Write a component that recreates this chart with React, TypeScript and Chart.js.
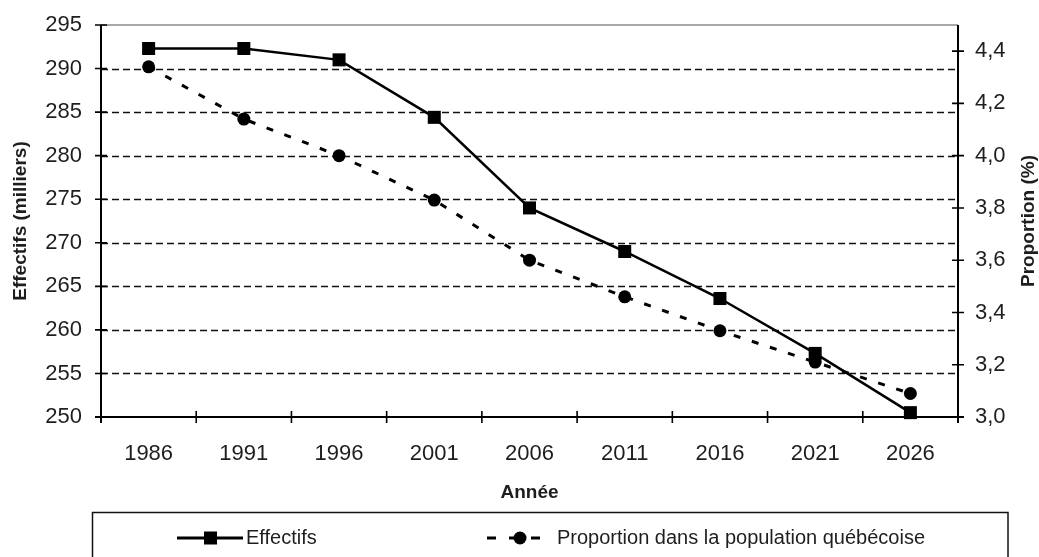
import React, { useEffect, useRef } from "react";
import { Chart, registerables } from "chart.js";

Chart.register(...registerables);

// Population data by census year
const years = ["1986", "1991", "1996", "2001", "2006", "2011", "2016", "2021", "2026"];
const effectifs = [292.3, 292.3, 291.0, 284.4, 274.0, 269.0, 263.6, 257.3, 250.5];
const proportion = [4.34, 4.14, 4.0, 3.83, 3.6, 3.46, 3.33, 3.21, 3.09];

// Axis ranges
const leftAxis = { min: 250, max: 295, step: 5 };
const rightAxis = { min: 3.0, max: 4.5, step: 0.2, lastLabel: 4.4 };

const seriesNames = ["Effectifs", "Proportion dans la population québécoise"];
const axisTitles = { x: "Année", left: "Effectifs (milliers)", right: "Proportion (%)" };

const FONT = "'Liberation Sans', Arial, sans-serif";
const TEXT = "#1e1e1e";

const framePlugin = {
  id: "frame",
  beforeDatasetsDraw(chart: any) {
    const { ctx, chartArea: a, scales } = chart;
    const y = scales.y;
    const y1 = scales.y1;
    const x = scales.x;
    ctx.save();
    // dashed horizontal grid
    ctx.strokeStyle = "#111";
    ctx.lineWidth = 1.6;
    ctx.setLineDash([7, 4]);
    y.ticks.forEach((t: any) => {
      if (t.value <= leftAxis.min || t.value >= leftAxis.max) return;
      const py = Math.round(y.getPixelForValue(t.value)) + 0.5;
      ctx.beginPath();
      ctx.moveTo(a.left, py);
      ctx.lineTo(a.right, py);
      ctx.stroke();
    });
    ctx.setLineDash([]);
    // top border
    ctx.strokeStyle = "#a8a8a8";
    ctx.lineWidth = 2;
    ctx.beginPath();
    ctx.moveTo(a.left, a.top);
    ctx.lineTo(a.right, a.top);
    ctx.stroke();
    // axis lines
    ctx.strokeStyle = "#000";
    ctx.lineWidth = 2;
    ctx.beginPath();
    ctx.moveTo(a.left, a.top);
    ctx.lineTo(a.left, a.bottom + 6);
    ctx.moveTo(a.right, a.top);
    ctx.lineTo(a.right, a.bottom + 6);
    ctx.moveTo(a.left - 6, a.bottom);
    ctx.lineTo(a.right + 6, a.bottom);
    ctx.stroke();
    // crossing tick marks
    ctx.lineWidth = 1.6;
    ctx.beginPath();
    y.ticks.forEach((t: any) => {
      const py = y.getPixelForValue(t.value);
      ctx.moveTo(a.left - 6, py);
      ctx.lineTo(a.left + 6, py);
    });
    y1.ticks.forEach((t: any) => {
      const py = y1.getPixelForValue(t.value);
      ctx.moveTo(a.right - 6, py);
      ctx.lineTo(a.right + 6, py);
    });
    const n = x.ticks.length;
    for (let i = 1; i < n; i++) {
      const px = (x.getPixelForValue(i - 1) + x.getPixelForValue(i)) / 2;
      ctx.moveTo(px, a.bottom - 6);
      ctx.lineTo(px, a.bottom + 6);
    }
    ctx.stroke();
    ctx.restore();
  },
  afterDraw(chart: any) {
    const { ctx, chartArea: a } = chart;
    ctx.save();
    ctx.fillStyle = TEXT;
    ctx.font = `bold 19px ${FONT}`;
    ctx.textAlign = "center";
    ctx.textBaseline = "middle";
    ctx.fillText(axisTitles.x, (a.left + a.right) / 2, 493);
    const cy = (a.top + a.bottom) / 2;
    ctx.save();
    ctx.translate(21, cy);
    ctx.rotate(-Math.PI / 2);
    ctx.fillText(axisTitles.left, 0, 0);
    ctx.restore();
    ctx.save();
    ctx.translate(1029, cy);
    ctx.rotate(-Math.PI / 2);
    ctx.fillText(axisTitles.right, 0, 0);
    ctx.restore();

    // legend box
    ctx.strokeStyle = "#111";
    ctx.lineWidth = 1.5;
    ctx.strokeRect(92.5, 512.5, 915.5, 70);
    const ly = 538;
    // solid sample with square
    ctx.strokeStyle = "#000";
    ctx.lineWidth = 3;
    ctx.beginPath();
    ctx.moveTo(177, ly);
    ctx.lineTo(243, ly);
    ctx.stroke();
    ctx.fillStyle = "#000";
    ctx.fillRect(204, ly - 6.5, 13, 13);
    // dashed sample with circle
    ctx.setLineDash([9, 13]);
    ctx.beginPath();
    ctx.moveTo(487, ly);
    ctx.lineTo(545, ly);
    ctx.stroke();
    ctx.setLineDash([]);
    ctx.beginPath();
    ctx.arc(520, ly, 6.5, 0, Math.PI * 2);
    ctx.fill();
    ctx.fillStyle = TEXT;
    ctx.font = `20px ${FONT}`;
    ctx.textAlign = "left";
    ctx.fillText(seriesNames[0], 246, ly);
    ctx.fillText(seriesNames[1], 557, ly);
    ctx.restore();
  },
};

export default function App() {
  const ref = useRef<HTMLCanvasElement>(null);

  useEffect(() => {
    document.body.style.margin = "0";
    const canvas = ref.current!;
    const tickFont = { family: FONT, size: 22 };
    const chart = new Chart(canvas, {
      type: "line",
      data: {
        labels: years,
        datasets: [
          {
            label: seriesNames[0],
            data: effectifs,
            yAxisID: "y",
            borderColor: "#000",
            backgroundColor: "#000",
            borderWidth: 2.5,
            pointStyle: "rect",
            pointRadius: 9.2,
            pointBorderWidth: 0,
            tension: 0,
            clip: false,
          },
          {
            label: seriesNames[1],
            data: proportion,
            yAxisID: "y1",
            borderColor: "#000",
            backgroundColor: "#000",
            borderWidth: 3,
            borderDash: [7, 12],
            pointStyle: "circle",
            pointRadius: 6.5,
            pointBorderWidth: 0,
            tension: 0,
            clip: false,
          },
        ],
      },
      options: {
        responsive: false,
        animation: false,
        layout: { padding: { top: 25, left: 0, right: 0, bottom: 0 } },
        plugins: { legend: { display: false }, tooltip: { enabled: false } },
        scales: {
          x: {
            type: "category",
            offset: true,
            grid: { display: false, drawTicks: false },
            border: { display: false },
            ticks: { font: tickFont, color: TEXT, padding: 24, maxRotation: 0, autoSkip: false },
            afterFit(s: any) {
              s.height = 140;
              s.paddingLeft = 0;
              s.paddingRight = 0;
            },
          },
          y: {
            position: "left",
            min: leftAxis.min,
            max: leftAxis.max,
            grid: { display: false, drawTicks: false },
            border: { display: false },
            ticks: { stepSize: leftAxis.step, font: tickFont, color: TEXT, padding: 19 },
            afterFit(s: any) {
              s.width = 101;
              s.paddingTop = 0;
              s.paddingBottom = 0;
            },
          },
          y1: {
            position: "right",
            min: rightAxis.min,
            max: rightAxis.max,
            grid: { display: false, drawTicks: false },
            border: { display: false },
            ticks: {
              stepSize: rightAxis.step,
              font: tickFont,
              color: TEXT,
              padding: 17,
              callback: (v: any) => Number(v).toFixed(1).replace(".", ","),
            },
            afterBuildTicks(s: any) {
              s.ticks = s.ticks.filter((t: any) => t.value <= rightAxis.lastLabel + 0.01);
            },
            afterFit(s: any) {
              s.width = 81;
              s.paddingTop = 0;
              s.paddingBottom = 0;
            },
          },
        },
      },
      plugins: [framePlugin],
    } as any);
    return () => chart.destroy();
  }, []);

  return <canvas ref={ref} width={1039} height={557} style={{ display: "block" }} />;
}
